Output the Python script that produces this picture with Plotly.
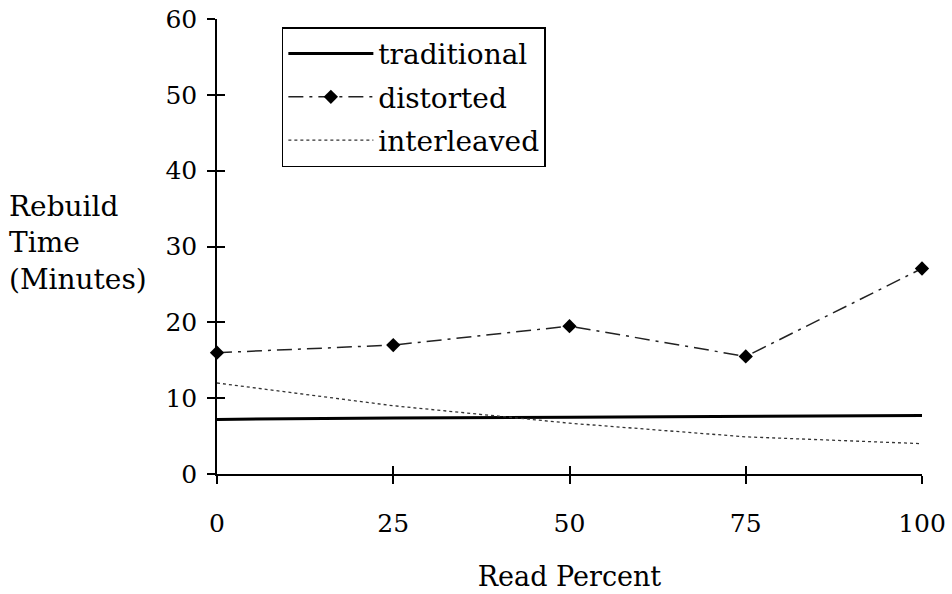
import plotly.graph_objects as go

read_percent = [0, 25, 50, 75, 100]
traditional = [7.2, 7.4, 7.5, 7.6, 7.7]
distorted = [16.0, 17.0, 19.5, 15.5, 27.1]
interleaved = [12.0, 9.0, 6.7, 4.9, 4.0]
y_ticks = [0, 10, 20, 30, 40, 50, 60]
x_ticks = [0, 25, 50, 75, 100]

FONT = "DejaVu Serif"

fig = go.Figure()
fig.add_trace(go.Scatter(x=read_percent, y=traditional, name="traditional", mode="lines",
                         line=dict(color="black", width=3), legendgroup="a", cliponaxis=False))
fig.add_trace(go.Scatter(x=read_percent, y=distorted, name="distorted", mode="lines+markers",
                         line=dict(color="#222", width=1.5, dash="longdashdot"),
                         marker=dict(symbol="diamond", size=11, color="black"),
                         legendgroup="b", cliponaxis=False))
fig.add_trace(go.Scatter(x=read_percent, y=interleaved, name="interleaved", mode="lines",
                         line=dict(color="#333", width=1.3, dash="dot"), legendgroup="c", cliponaxis=False))
# overlay axes for crossing tick marks
fig.add_trace(go.Scatter(x=[None], y=[None], xaxis="x2", yaxis="y2", showlegend=False, hoverinfo="skip"))

axis_common = dict(showgrid=False, zeroline=False, showline=True, linecolor="black", linewidth=1.5,
                   tickcolor="black", tickwidth=1.5, ticklen=8, tickfont=dict(family=FONT, size=25),
                   ticklabeloverflow="allow")
fig.update_layout(
    width=952, height=594,
    margin=dict(l=217, r=30, t=19, b=120, autoexpand=False),
    paper_bgcolor="white", plot_bgcolor="white",
    font=dict(family=FONT, size=28, color="black"),
    xaxis=dict(range=[0, 100], tickvals=x_ticks, ticks="outside", ticklabelstandoff=18,
               title=dict(text="Read Percent", standoff=30, font=dict(family=FONT, size=27)),
               **axis_common),
    yaxis=dict(range=[0, 60], tickvals=y_ticks, ticks="outside", ticklabelstandoff=5, **axis_common),
    xaxis2=dict(overlaying="x", matches="x", range=[0, 100], tickvals=x_ticks, ticks="inside",
                showticklabels=False, showgrid=False, zeroline=False, showline=False,
                tickcolor="black", tickwidth=1.5, ticklen=8),
    yaxis2=dict(overlaying="y", matches="y", range=[0, 60], tickvals=y_ticks, ticks="inside",
                showticklabels=False, showgrid=False, zeroline=False, showline=False,
                tickcolor="black", tickwidth=1.5, ticklen=8),
    legend=dict(x=0.092, y=0.982, xanchor="left", yanchor="top", bordercolor="black", borderwidth=1.5,
                bgcolor="white", font=dict(family=FONT, size=28), itemwidth=85, traceorder="grouped",
                tracegroupgap=4),
    showlegend=True,
)
fig.add_annotation(text="Rebuild<br>Time<br>(Minutes)", xref="paper", yref="paper",
                   x=-0.298, y=0.629, xanchor="left", yanchor="top", align="left",
                   showarrow=False, font=dict(family=FONT, size=28))

fig.write_html("out.html", config={"displayModeBar": False},
               post_script="document.body.style.margin='0';")
